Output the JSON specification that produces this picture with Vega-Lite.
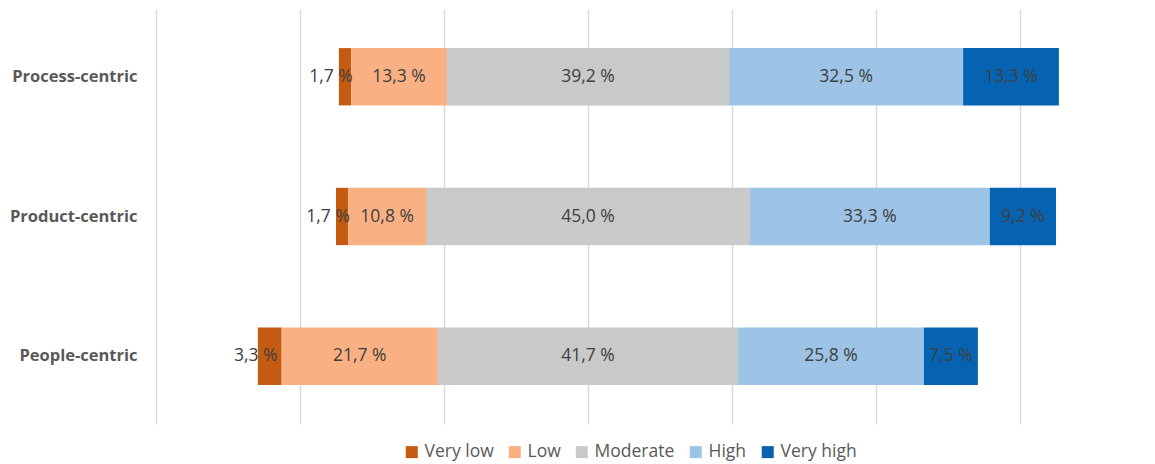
{
  "$schema": "https://vega.github.io/schema/vega-lite/v6.json",
  "width": 999,
  "height": 415,
  "autosize": {"type": "none"},
  "padding": {"left": 156, "top": 9, "right": 0, "bottom": 40},
  "background": "white",
  "config": {"view": {"stroke": null}},
  "data": {
    "values": [
      {"group": "Process-centric", "level": "Very low", "value": 1.7},
      {"group": "Process-centric", "level": "Low", "value": 13.3},
      {"group": "Process-centric", "level": "Moderate", "value": 39.2},
      {"group": "Process-centric", "level": "High", "value": 32.5},
      {"group": "Process-centric", "level": "Very high", "value": 13.3},
      {"group": "Product-centric", "level": "Very low", "value": 1.7},
      {"group": "Product-centric", "level": "Low", "value": 10.8},
      {"group": "Product-centric", "level": "Moderate", "value": 45.0},
      {"group": "Product-centric", "level": "High", "value": 33.3},
      {"group": "Product-centric", "level": "Very high", "value": 9.2},
      {"group": "People-centric", "level": "Very low", "value": 3.3},
      {"group": "People-centric", "level": "Low", "value": 21.7},
      {"group": "People-centric", "level": "Moderate", "value": 41.7},
      {"group": "People-centric", "level": "High", "value": 25.8},
      {"group": "People-centric", "level": "Very high", "value": 7.5}
    ]
  },
  "transform": [
    {"calculate": "indexof(['Very low','Low','Moderate','High','Very high'], datum.level)", "as": "ord"},
    {"window": [{"op": "sum", "field": "value", "as": "cum"}], "groupby": ["group"], "sort": [{"field": "ord"}], "frame": [null, 0]},
    {"calculate": "datum.ord < 2 ? datum.value : (datum.ord == 2 ? datum.value / 2 : 0)", "as": "negpart"},
    {"joinaggregate": [{"op": "sum", "field": "negpart", "as": "offset"}], "groupby": ["group"]},
    {"calculate": "datum.cum - datum.value - datum.offset", "as": "x0"},
    {"calculate": "datum.cum - datum.offset", "as": "x1"},
    {"calculate": "(datum.x0 + datum.x1) / 2", "as": "mid"},
    {"calculate": "replace(format(datum.value, '.1f'), '.', ',') + ' %'", "as": "label"}
  ],
  "encoding": {
    "y": {
      "field": "group",
      "type": "nominal",
      "sort": ["Process-centric", "Product-centric", "People-centric"],
      "scale": {"paddingInner": 0.59, "paddingOuter": 0.28},
      "axis": {
        "title": null,
        "ticks": false,
        "tickSize": 0,
        "domain": false,
        "grid": false,
        "labelFont": "Open Sans",
        "labelFontWeight": "bold",
        "labelFontSize": 16.5,
        "labelColor": "#595959",
        "labelPadding": 19
      }
    }
  },
  "layer": [
    {
      "mark": {"type": "bar"},
      "encoding": {
        "x": {
          "field": "x0",
          "type": "quantitative",
          "scale": {"domain": [-60, 78.75], "nice": false, "zero": false},
          "axis": {
            "values": [-60, -40, -20, 0, 20, 40, 60],
            "labels": false,
            "ticks": false,
            "domain": false,
            "title": null,
            "grid": true,
            "gridColor": "#d9d9d9",
            "gridWidth": 1.5
          }
        },
        "x2": {"field": "x1"},
        "color": {
          "field": "level",
          "type": "nominal",
          "scale": {
            "domain": ["Very low", "Low", "Moderate", "High", "Very high"],
            "range": ["#C55A11", "#F9B183", "#C9C9C9", "#9DC3E6", "#0563B1"]
          },
          "legend": {
            "orient": "none",
            "direction": "horizontal",
            "legendX": 247,
            "legendY": 434,
            "title": null,
            "symbolType": "square",
            "symbolSize": 144,
            "symbolStrokeWidth": 0,
            "symbolOpacity": 1,
            "labelFont": "Open Sans",
            "labelFontSize": 17.5,
            "labelColor": "#595959",
            "labelOffset": 4,
            "columnPadding": 12
          }
        }
      }
    },
    {
      "transform": [{"filter": "datum.level != 'Very low'"}],
      "mark": {"type": "text", "font": "Open Sans", "fontSize": 17.5, "color": "#404040"},
      "encoding": {
        "x": {"field": "mid", "type": "quantitative"},
        "text": {"field": "label"}
      }
    },
    {
      "transform": [{"filter": "datum.level == 'Very low'"}],
      "mark": {"type": "text", "font": "Open Sans", "fontSize": 17.5, "color": "#404040", "dx": -14},
      "encoding": {
        "x": {"field": "mid", "type": "quantitative"},
        "text": {"field": "label"}
      }
    }
  ]
}
